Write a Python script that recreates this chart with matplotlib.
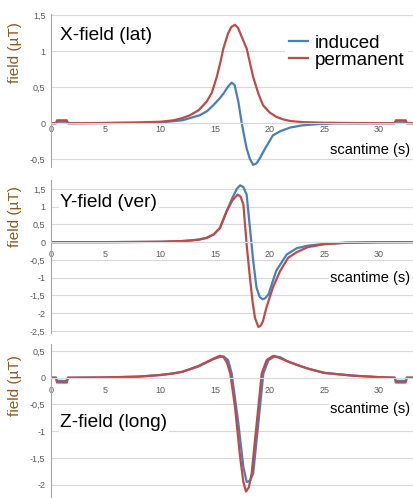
import matplotlib.pyplot as plt
from matplotlib.ticker import FuncFormatter

# --- data (scan time in s, field in uT) ---
x_perm_t = [0, 0.45, 0.55, 1.45, 1.55, 2, 5, 8, 10, 11.2, 12, 12.7, 13.5, 14.24, 14.7,
            15.16, 15.5, 15.77, 16.2, 16.5, 16.83, 17.1, 17.4, 17.9, 18.2, 18.5, 19.0,
            19.4, 20.0, 20.6, 21.2, 21.9, 23, 25, 28, 31.45, 31.55, 32.45, 32.55, 33.5]
x_perm_v = [0, 0, 0.04, 0.04, 0, 0, 0.003, 0.01, 0.02, 0.04, 0.07, 0.11, 0.18, 0.30, 0.42,
            0.64, 0.85, 1.04, 1.25, 1.34, 1.37, 1.33, 1.22, 1.04, 0.84, 0.64, 0.40,
            0.25, 0.15, 0.09, 0.055, 0.03, 0.015, 0.006, 0.002, 0, 0.04, 0.04, 0, 0]
x_ind_t = [0, 0.45, 0.55, 1.45, 1.55, 2, 5, 8, 10, 12, 13.6, 14.3, 14.85, 15.4, 15.77,
           16.2, 16.53, 16.8, 17.14, 17.45, 17.7, 17.9, 18.2, 18.5, 18.8, 19.1, 19.6,
           20.3, 21, 21.9, 23, 24.5, 26, 31.45, 31.55, 32.45, 32.55, 33.5]
x_ind_v = [0, 0, 0.02, 0.02, 0, 0, 0.002, 0.005, 0.01, 0.04, 0.11, 0.17, 0.25, 0.34, 0.41,
           0.51, 0.565, 0.53, 0.30, 0.0, -0.2, -0.35, -0.50, -0.58, -0.56, -0.49, -0.35,
           -0.17, -0.11, -0.06, -0.03, -0.012, -0.003, 0, 0.02, 0.02, 0, 0]

y_perm_t = [0, 5, 8, 10, 11, 12, 12.7, 13.5, 14.25, 14.9, 15.46, 16.07, 16.6, 17.08, 17.35,
            17.6, 17.9, 18.2, 18.45, 18.66, 18.97, 19.2, 19.4, 19.7, 20.3, 20.95, 21.7,
            22.5, 23.5, 25, 27, 30, 33.5]
y_perm_v = [0, 0, 0.005, 0.01, 0.02, 0.03, 0.045, 0.07, 0.12, 0.22, 0.40, 0.87, 1.18, 1.34, 1.28,
            1.06, -0.07, -1.0, -1.7, -2.13, -2.39, -2.35, -2.22, -1.85, -1.28, -0.82, -0.44,
            -0.28, -0.14, -0.06, -0.02, -0.005, 0]
y_ind_t = [0, 5, 8, 10, 11, 12, 12.7, 13.5, 14.25, 14.9, 15.46, 16.07, 16.6, 17.0, 17.3,
           17.6, 17.9, 18.2, 18.5, 18.8, 19.1, 19.37, 19.6, 19.9, 20.6, 21.56, 22.5,
           23.5, 25, 27, 30, 33.5]
y_ind_v = [0, 0, 0.005, 0.01, 0.02, 0.03, 0.045, 0.07, 0.12, 0.22, 0.40, 0.87, 1.25, 1.50, 1.60,
           1.55, 1.34, 0.40, -0.53, -1.28, -1.55, -1.61, -1.58, -1.47, -0.81, -0.35, -0.17,
           -0.10, -0.05, -0.015, -0.003, 0]

z_perm_t = [0, 0.45, 0.55, 1.45, 1.55, 2, 5, 8, 10, 11.2, 12, 12.7, 13.5, 14.2, 14.9, 15.46,
            15.8, 16.1, 16.4, 16.83, 17.3, 17.6, 17.84, 18.1, 18.36, 18.82, 19.28, 19.73,
            20.34, 20.9, 21.6, 22.5, 23.5, 25, 27.5, 30, 31.45, 31.55, 32.45, 32.55, 33.5]
z_perm_v = [0, 0, -0.09, -0.09, 0, 0, 0.005, 0.02, 0.05, 0.08, 0.11, 0.16, 0.22, 0.29, 0.36, 0.41,
            0.38, 0.28, 0.08, -0.54, -1.48, -1.95, -2.13, -2.05, -1.79, -0.85, 0.08, 0.33,
            0.41, 0.37, 0.31, 0.24, 0.17, 0.09, 0.04, 0.01, 0, -0.09, -0.09, 0, 0]
z_ind_t = [0, 0.45, 0.55, 1.45, 1.55, 2, 5, 8, 10, 11.2, 12, 12.7, 13.5, 14.2, 14.9, 15.5,
           15.77, 16.2, 16.53, 17.14, 17.6, 17.9, 18.2, 18.5, 18.97, 19.43, 19.9, 20.5,
           21, 21.6, 22.5, 23.5, 25, 27.5, 30, 31.45, 31.55, 32.45, 32.55, 33.5]
z_ind_v = [0, 0, -0.06, -0.06, 0, 0, 0.005, 0.02, 0.05, 0.08, 0.11, 0.155, 0.21, 0.28, 0.35, 0.39,
           0.40, 0.33, 0.08, -0.85, -1.67, -1.95, -1.93, -1.79, -0.85, 0.08, 0.33, 0.40,
           0.38, 0.31, 0.24, 0.17, 0.09, 0.04, 0.01, 0, -0.06, -0.06, 0, 0]

x_ticks = [0, 5, 10, 15, 20, 25, 30]
panel_titles = ["X-field (lat)", "Y-field (ver)", "Z-field (long)"]

COL_IND = "#4a7ebb"
COL_PERM = "#be4b48"
COL_GRID = "#d9d9d9"
COL_TICK = "#595959"
COL_YLAB = "#8c5a1e"

plt.rcParams["font.family"] = ["Liberation Sans", "DejaVu Sans"]

fig = plt.figure(figsize=(4.14, 4.98), dpi=100)
W, H = 414, 498
X0 = 51


def make_ax(top_px, bot_px, ylim, yticks, title, title_y, lab_y, xpad):
    ax = fig.add_axes([X0 / W, 1 - bot_px / H, (W - X0) / W, (bot_px - top_px) / H])
    ax.set_xlim(0, (W - X0) / 10.93)
    ax.set_ylim(ylim)
    ax.set_yticks(yticks)
    ax.set_xticks(x_ticks)
    ax.yaxis.set_major_formatter(FuncFormatter(lambda v, p: f"{v:g}".replace(".", ",")))
    ax.grid(axis="y", color=COL_GRID, lw=0.8)
    ax.set_axisbelow(True)
    for s in ["top", "right"]:
        ax.spines[s].set_visible(False)
    ax.spines["left"].set_color("#a6a6a6")
    ax.spines["left"].set_linewidth(0.8)
    ax.spines["bottom"].set_position(("data", 0))
    ax.spines["bottom"].set_color(COL_GRID)
    ax.spines["bottom"].set_linewidth(0.8)
    ax.tick_params(axis="both", length=0, labelsize=6.5, labelcolor=COL_TICK)
    ax.tick_params(axis="y", pad=4)
    ax.tick_params(axis="x", pad=xpad)
    ax.set_ylabel("field (\u00b5T)", fontsize=11, color=COL_YLAB)
    ax.yaxis.set_label_coords(-0.08, lab_y)
    ax.text(0.026, title_y, title, transform=ax.transAxes, fontsize=13.8, va="center",
            ha="left", bbox=dict(facecolor="white", edgecolor="none", pad=1))
    return ax


ax1 = make_ax(14, 167, (-0.61, 1.52), [-0.5, 0, 0.5, 1, 1.5], panel_titles[0], 0.86, 0.745, 1)
ax2 = make_ax(180, 333, (-2.56, 1.75), [-2.5, -2, -1.5, -1, -0.5, 0, 0.5, 1, 1.5],
              panel_titles[1], 0.85, 0.76, 6)
ax3 = make_ax(344, 498, (-2.25, 0.63), [-2, -1.5, -1, -0.5, 0, 0.5], panel_titles[2], 0.49, 0.73, 6)

series = [(ax1, x_ind_t, x_ind_v, x_perm_t, x_perm_v),
          (ax2, y_ind_t, y_ind_v, y_perm_t, y_perm_v),
          (ax3, z_ind_t, z_ind_v, z_perm_t, z_perm_v)]
for ax, ti, vi, tp, vp in series:
    ax.plot(ti, vi, color=COL_IND, lw=1.6, label="induced", solid_joinstyle="round")
    ax.plot(tp, vp, color=COL_PERM, lw=1.6, label="permanent", solid_joinstyle="round")

# scantime labels
for ax, ypos in [(ax1, 0.11), (ax2, 0.36), (ax3, 0.58)]:
    ax.text(0.99, ypos, "scantime (s)", transform=ax.transAxes, fontsize=10.5, ha="right",
            va="center", bbox=dict(facecolor="white", edgecolor="none", pad=1))

leg = ax1.legend(loc="upper left", bbox_to_anchor=(0.62, 0.95), fontsize=13.5,
                 frameon=True, facecolor="white", edgecolor="none", framealpha=1,
                 handlelength=1.0, handletextpad=0.35, labelspacing=0.0, borderpad=0.2,
                 fancybox=False)

fig.savefig("out.png", dpi=100)
